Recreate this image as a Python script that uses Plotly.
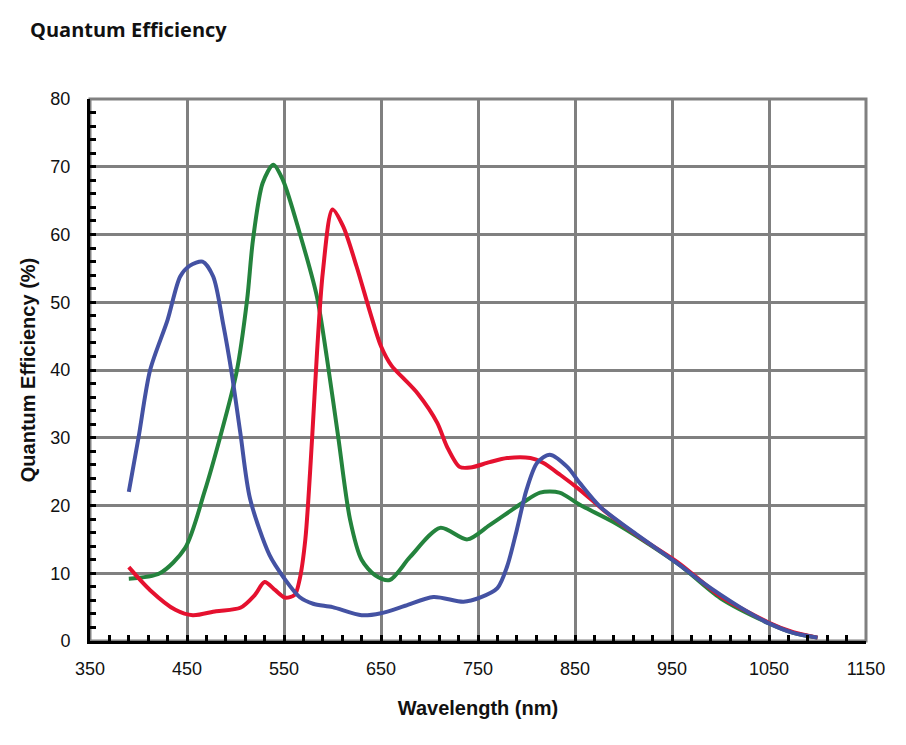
import plotly.graph_objects as go

# Blue channel
blue_x = [390, 400, 412, 430, 443, 453, 466, 477, 487, 496, 505, 515, 535, 550, 566, 580, 600, 630, 650, 675, 704, 735, 752, 770, 780, 790, 800, 811, 824, 842, 855, 876, 907, 958, 980, 1020, 1050, 1075, 1100]
blue_y = [22, 30, 40, 47.4, 53.8, 55.4, 56, 53.8, 47, 39.6, 30.7, 21, 12.7, 9.3, 6.5, 5.5, 5, 3.8, 4.1, 5.2, 6.5, 5.8, 6.4, 7.8, 11, 16.4, 22.3, 26.3, 27.5, 25.7, 23.3, 19.8, 16.4, 11.2, 8.8, 5, 2.6, 1.2, 0.5]

# Green channel
green_x = [390, 422, 448, 468, 484, 501, 512, 518, 528, 539, 549, 566, 584, 594, 606, 618, 630, 644, 659, 680, 711, 739, 762, 796, 814, 834, 855, 889, 924, 958, 1000, 1050, 1075, 1100]
green_y = [9.2, 10, 13.7, 22, 30, 39.6, 50.4, 59.2, 67.6, 70.3, 68, 60.3, 50.8, 42, 30, 18, 12, 9.7, 9, 12.4, 16.7, 15, 17.1, 20.4, 21.9, 21.9, 20.1, 17.6, 14.5, 11.2, 6.3, 2.6, 1.2, 0.5]

# Red channel
red_x = [390, 412, 438, 456, 480, 505, 520, 530, 541, 551, 561, 566, 572, 579, 584, 590, 600, 611, 625, 639, 650, 661, 673, 688, 708, 718, 731, 742, 762, 780, 804, 817, 835, 855, 883, 920, 958, 1000, 1050, 1075, 1100]
red_y = [10.9, 7.5, 4.6, 3.8, 4.4, 4.9, 6.8, 8.7, 7.5, 6.4, 6.8, 9, 15, 30, 42.5, 54.4, 63.7, 61.2, 55.2, 48.4, 43.5, 40.6, 38.8, 36.5, 32.2, 28.7, 25.7, 25.6, 26.4, 27, 27, 26.3, 24.5, 22.3, 18.9, 15, 11.4, 6.6, 2.7, 1.3, 0.5]

x_ticks = [350, 450, 550, 650, 750, 850, 950, 1050, 1150]
y_ticks = [0, 10, 20, 30, 40, 50, 60, 70, 80]

W, H = 898, 737

fig = go.Figure()
line_kw = dict(width=4, shape="spline", smoothing=0.8)
fig.add_trace(go.Scatter(x=green_x, y=green_y, mode="lines", line=dict(color="#24833D", **line_kw)))
fig.add_trace(go.Scatter(x=red_x, y=red_y, mode="lines", line=dict(color="#E5112F", **line_kw)))
fig.add_trace(go.Scatter(x=blue_x, y=blue_y, mode="lines", line=dict(color="#4452A3", **line_kw)))

font_fam = "Liberation Sans, Arial"
tickfont = dict(family=font_fam, size=18, color="#111111")
titlefont = dict(family=font_fam, size=20, color="#111111", weight="bold")

fig.update_layout(
    width=W, height=H,
    margin=dict(l=82, r=40, t=91, b=104),
    paper_bgcolor="white", plot_bgcolor="white",
    showlegend=False,
    title=dict(text="<b>Quantum Efficiency</b>", x=22/W, xanchor="left", y=1-22/H, yanchor="middle",
               font=dict(family="Open Sans", size=20, color="#111111")),
    shapes=[dict(type="rect", xref="paper", yref="paper", x0=0, x1=1, y0=0, y1=1,
                 line=dict(color="#808080", width=3), layer="below")],
)
fig.update_xaxes(
    range=[350, 1150], tickmode="array", tickvals=x_ticks, ticktext=[str(v) for v in x_ticks],
    showgrid=True, gridcolor="#808080", gridwidth=3, zeroline=False,
    showline=True, linecolor="#000000", linewidth=3,
    ticks="inside", ticklen=6, tickwidth=3, tickcolor="#000000",
    minor=dict(dtick=20, tick0=350, ticks="inside", ticklen=6, tickwidth=3, tickcolor="#000000", showgrid=False),
    tickfont=tickfont, ticklabelstandoff=9, automargin=False,
    title=dict(text="Wavelength (nm)", font=titlefont, standoff=24),
)
fig.update_yaxes(
    range=[0, 80], tickmode="array", tickvals=y_ticks, ticktext=[str(v) for v in y_ticks],
    showgrid=True, gridcolor="#808080", gridwidth=3, zeroline=False,
    showline=True, linecolor="#000000", linewidth=3,
    ticks="inside", ticklen=6, tickwidth=3, tickcolor="#000000",
    minor=dict(dtick=2, tick0=0, ticks="inside", ticklen=6, tickwidth=3, tickcolor="#000000", showgrid=False),
    tickfont=tickfont, ticklabelstandoff=13, automargin=False,
    title=dict(text="Quantum Efficiency (%)", font=titlefont, standoff=10),
)

fig.write_html("out.html")
